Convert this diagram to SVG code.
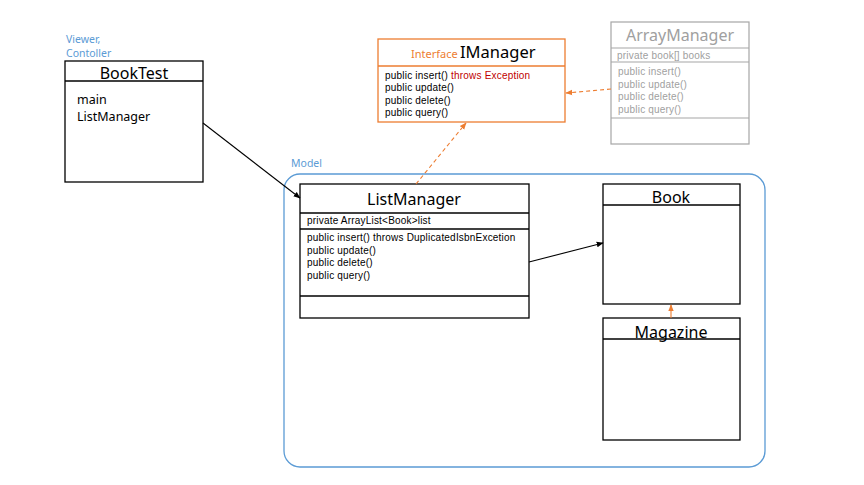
<svg xmlns="http://www.w3.org/2000/svg" width="864" height="485" viewBox="0 0 864 485">
<defs>
<style>
text{font-family:"Noto Sans","Open Sans",sans-serif;}
.box{fill:#fff;stroke:#000;stroke-width:1.3;}
.ln{stroke:#000;stroke-width:1.3;}
.title{font-size:16px;fill:#000;text-anchor:middle;}
.m{font-family:"Liberation Sans",Arial,sans-serif;font-size:10px;letter-spacing:0.2px;fill:#000;}
.g{fill:#a0a0a0;}
.blue{fill:#5b9bd5;font-size:10.5px;}
</style>
<marker id="ab" viewBox="0 0 10 10" refX="9" refY="5" markerWidth="7" markerHeight="7" orient="auto" markerUnits="userSpaceOnUse"><path d="M0,1 L10,5 L0,9 Z" fill="#000"/></marker>
<marker id="ao" viewBox="0 0 10 10" refX="9" refY="5" markerWidth="7" markerHeight="7" orient="auto" markerUnits="userSpaceOnUse"><path d="M0,1 L10,5 L0,9 Z" fill="#ed7d31"/></marker>
</defs>

<g id="model">
<rect x="284" y="174" width="481" height="293" rx="16" fill="none" stroke="#5b9bd5" stroke-width="1.3"/>
<text x="291" y="167" class="blue">Model</text>
</g>

<g id="viewer-label">
<text x="66" y="43" class="blue">Viewer,</text>
<text x="66" y="57" class="blue">Contoller</text>
</g>

<g id="booktest">
<rect x="65" y="61" width="138" height="121" class="box"/>
<line x1="65" y1="81" x2="203" y2="81" class="ln"/>
<text x="134" y="79" class="title">BookTest</text>
<text x="77" y="104" font-size="12.5">main</text>
<text x="77" y="121" font-size="12.5">ListManager</text>
</g>

<g id="imanager">
<rect x="378" y="39" width="187" height="83" fill="#fff" stroke="#ed7d31" stroke-width="1.3"/>
<line x1="378" y1="66" x2="565" y2="66" stroke="#ed7d31" stroke-width="1.3"/>
<text x="411" y="58" font-size="11" fill="#ed7d31">Interface</text>
<text x="460" y="58" font-size="16.5" fill="#000">IManager</text>
<text x="385" y="79" class="m">public insert() <tspan fill="#c00000">throws Exception</tspan></text>
<text x="385" y="91" class="m">public update()</text>
<text x="385" y="103.5" class="m">public delete()</text>
<text x="385" y="116" class="m">public query()</text>
</g>

<g id="arraymanager">
<rect x="611" y="22" width="138" height="122" fill="#fff" stroke="#a6a6a6" stroke-width="1.2"/>
<line x1="611" y1="48" x2="749" y2="48" stroke="#a6a6a6" stroke-width="1.2"/>
<line x1="611" y1="62" x2="749" y2="62" stroke="#a6a6a6" stroke-width="1.2"/>
<line x1="611" y1="118" x2="749" y2="118" stroke="#a6a6a6" stroke-width="1.2"/>
<text x="680" y="41" class="title g">ArrayManager</text>
<text x="617" y="59" class="m g">private book[] books</text>
<text x="618" y="75" class="m g">public insert()</text>
<text x="618" y="87.5" class="m g">public update()</text>
<text x="618" y="100" class="m g">public delete()</text>
<text x="618" y="112.5" class="m g">public query()</text>
</g>

<g id="listmanager">
<rect x="300" y="184" width="229" height="134" class="box"/>
<line x1="300" y1="213" x2="529" y2="213" class="ln"/>
<line x1="300" y1="229" x2="529" y2="229" class="ln"/>
<line x1="300" y1="296" x2="529" y2="296" class="ln"/>
<text x="414" y="205" class="title" font-size="17">ListManager</text>
<text x="307" y="224" class="m">private ArrayList&lt;Book&gt;list</text>
<text x="307" y="241" class="m">public insert() throws DuplicatedIsbnExcetion</text>
<text x="307" y="253.5" class="m">public update()</text>
<text x="307" y="266" class="m">public delete()</text>
<text x="307" y="278.5" class="m">public query()</text>
</g>

<g id="book">
<rect x="603" y="184" width="137" height="120" class="box"/>
<line x1="603" y1="205" x2="740" y2="205" class="ln"/>
<text x="671" y="203" class="title">Book</text>
</g>

<g id="magazine">
<rect x="603" y="318" width="137" height="122" class="box"/>
<line x1="603" y1="339" x2="740" y2="339" class="ln"/>
<text x="671" y="338" class="title">Magazine</text>
</g>

<g id="connectors">
<line x1="203" y1="123" x2="300" y2="198" stroke="#000" stroke-width="1.1" marker-end="url(#ab)"/>
<line x1="529" y1="262" x2="603" y2="243" stroke="#000" stroke-width="1.1" marker-end="url(#ab)"/>
<line x1="671" y1="318" x2="671" y2="305" stroke="#ed7d31" stroke-width="1.1" marker-end="url(#ao)"/>
<line x1="611" y1="89" x2="566" y2="93" stroke="#ed7d31" stroke-width="1.1" stroke-dasharray="4,3" marker-end="url(#ao)"/>
<line x1="416" y1="184" x2="466" y2="123" stroke="#ed7d31" stroke-width="1.1" stroke-dasharray="4,3" marker-end="url(#ao)"/>
</g>
</svg>
